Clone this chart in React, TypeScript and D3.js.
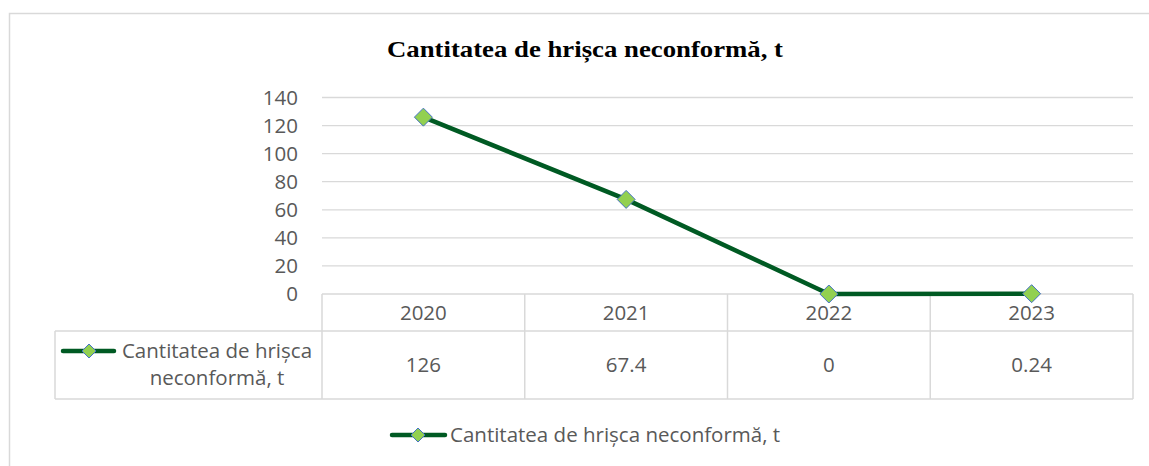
import React from 'react';
import * as d3 from 'd3';

const years = ['2020', '2021', '2022', '2023'];
const values = [126, 67.4, 0, 0.24];
const valueLabels = ['126', '67.4', '0', '0.24'];
const yTicks = [0, 20, 40, 60, 80, 100, 120, 140];
const seriesName = 'Cantitatea de hrișca neconformă, t';
const title = 'Cantitatea de hrișca neconformă, t';

const W = 1149;
const H = 466;
const sans = '"Open Sans", "Liberation Sans", Arial, sans-serif';
const fs = 20.5;
const grey = '#595959';
const gridC = '#d9d9d9';
const lineC = '#005a23';
const markFill = '#92d050';
const markStroke = '#4472c4';

const Diamond = ({ x, y, r = 8 }: { x: number; y: number; r?: number }) => (
    <path
        d={`M${x},${y - r}L${x + r},${y}L${x},${y + r}L${x - r},${y}Z`}
        fill={markFill}
        stroke={markStroke}
        strokeWidth={1}
    />
);

export default function App() {
    const plotL = 322;
    const plotR = 1133;
    const x = d3.scaleBand<string>().domain(years).range([plotL, plotR]);
    const y = d3.scaleLinear().domain([0, 140]).range([294, 97.5]);

    const line = d3
        .line<number>()
        .x((_, i) => (x(years[i]) as number) + x.bandwidth() / 2)
        .y((d) => y(d));

    const headBottom = 331;
    const tableBottom = 399;
    const tableLeft = 55;
    const bounds = years.map((yr) => x(yr) as number).concat([plotR]);

    return (
        <svg
            width={W}
            height={H}
            style={{ position: 'absolute', left: 0, top: 0, background: '#fff' }}
        >
            <rect x={9.5} y={13.5} width={W + 20} height={H + 20} fill="#fff" stroke={gridC} strokeWidth={1.5} />
            <text
                x={387}
                y={57}
                textLength={396}
                lengthAdjust="spacingAndGlyphs"
                fontFamily='"Liberation Serif", "Times New Roman", serif'
                fontWeight="bold"
                fontSize={22.5}
                fill="#000"
            >
                {title}
            </text>

            {yTicks.map((t) => (
                <g key={t}>
                    {t > 0 && (
                        <line x1={plotL} x2={plotR} y1={y(t)} y2={y(t)} stroke={gridC} strokeWidth={1.3} />
                    )}
                    <text
                        x={298}
                        y={y(t)}
                        dy="0.36em"
                        textAnchor="end"
                        fontFamily={sans}
                        fontSize={fs}
                        fill={grey}
                    >
                        {t}
                    </text>
                </g>
            ))}

            {/* data table */}
            <g stroke={gridC} strokeWidth={1.5} fill="none">
                <line x1={plotL} x2={plotR} y1={y(0)} y2={y(0)} />
                <line x1={tableLeft} x2={plotR} y1={headBottom} y2={headBottom} />
                <line x1={tableLeft} x2={plotR} y1={tableBottom} y2={tableBottom} />
                <line x1={tableLeft} x2={tableLeft} y1={headBottom} y2={tableBottom} />
                {bounds.map((b, i) => (
                    <line key={i} x1={b} x2={b} y1={y(0)} y2={tableBottom} />
                ))}
            </g>
            {years.map((yr, i) => {
                const cx = (x(yr) as number) + x.bandwidth() / 2;
                return (
                    <g key={yr} fontFamily={sans} fontSize={fs} fill={grey} textAnchor="middle">
                        <text x={cx} y={(y(0) + headBottom) / 2} dy="0.36em">
                            {yr}
                        </text>
                        <text x={cx} y={(headBottom + tableBottom) / 2} dy="0.36em">
                            {valueLabels[i]}
                        </text>
                    </g>
                );
            })}
            <line x1={63} x2={114} y1={351} y2={351} stroke={lineC} strokeWidth={4.5} strokeLinecap="round" />
            <Diamond x={89} y={351} r={7} />
            <text x={217} y={351} dy="0.36em" textAnchor="middle" fontFamily={sans} fontSize={fs} fill={grey}>
                Cantitatea de hrișca
            </text>
            <text x={217} y={378} dy="0.36em" textAnchor="middle" fontFamily={sans} fontSize={fs} fill={grey}>
                neconformă, t
            </text>

            {/* series */}
            <path d={line(values) || ''} fill="none" stroke={lineC} strokeWidth={4.5} strokeLinejoin="round" />
            {values.map((v, i) => (
                <Diamond key={i} x={(x(years[i]) as number) + x.bandwidth() / 2} y={y(v)} r={9} />
            ))}

            {/* legend */}
            <line x1={392} x2={445} y1={435} y2={435} stroke={lineC} strokeWidth={4.5} strokeLinecap="round" />
            <Diamond x={418} y={435} r={7} />
            <text x={450} y={435} dy="0.36em" fontFamily={sans} fontSize={fs} fill={grey}>
                {seriesName}
            </text>
        </svg>
    );
}
